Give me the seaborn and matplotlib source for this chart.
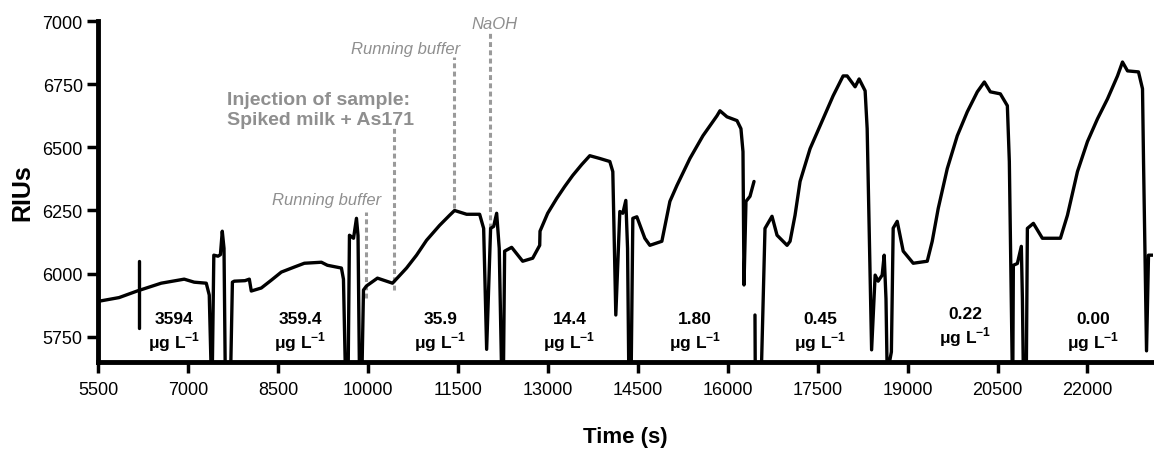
import numpy as np
import pandas as pd
import seaborn as sns
import matplotlib
matplotlib.use("Agg")
import matplotlib.pyplot as plt

# ---- data ----
seg_a_t = [5500, 5850, 6151, 6552, 6936, 7103, 7304, 7354, 7387, 7404,
           7430, 7500, 7540, 7571, 7600, 7621, 7710, 7740, 7771, 7950,
           8022, 8055, 8222, 8389, 8556, 8773, 8940, 9224, 9324, 9558,
           9592, 9625, 9670, 9692, 9760, 9809, 9835, 9859, 9900, 9926,
           9976, 10159, 10410, 10644, 10811, 10978, 11195, 11362, 11445, 11646,
           11863, 11930, 11980, 12046, 12097, 12147, 12190, 12230, 12260, 12280,
           12397, 12581, 12748, 12865, 12870, 12998, 13149, 13282, 13416, 13566,
           13700, 13867, 14034, 14084, 14134, 14201, 14251, 14301, 14330, 14351,
           14390, 14418, 14485, 14618, 14702, 14902, 15036, 15153, 15370, 15587,
           15821, 15871, 15988, 16155, 16221, 16255, 16272, 16305, 16372, 16439]
seg_a_y = [5890, 5905, 5931, 5962, 5978, 5966, 5962, 5915, 5600, 5600,
           6073, 6069, 6075, 6168, 6100, 5600, 5600, 5966, 5970, 5972,
           5978, 5931, 5943, 5974, 6006, 6026, 6041, 6045, 6033, 6022,
           5978, 5600, 5600, 6152, 6140, 6219, 6150, 5600, 5600, 5935,
           5951, 5982, 5962, 6022, 6073, 6132, 6191, 6231, 6250, 6235,
           6235, 6179, 5700, 6179, 6187, 6239, 6100, 5600, 5600, 6089,
           6104, 6049, 6061, 6112, 6168, 6239, 6298, 6345, 6389, 6432,
           6467, 6456, 6444, 6404, 5836, 6246, 6239, 6290, 6100, 5600,
           5600, 6219, 6225, 6140, 6112, 6128, 6286, 6349, 6456, 6546,
           6625, 6645, 6621, 6606, 6574, 6483, 5955, 6286, 6306, 6365]

seg_b_t = [16455, 16460, 16560, 16622, 16739, 16823, 16990, 17040, 17123, 17207,
           17374, 17591, 17758, 17925, 17992, 18125, 18192, 18292, 18326, 18400,
           18459, 18509, 18576, 18610, 18640, 18660, 18730, 18760, 18827, 18927,
           19094, 19328, 19411, 19511, 19662, 19829, 19996, 20163, 20280, 20380,
           20547, 20664, 20697, 20747, 20755, 20764, 20831, 20897, 20915, 20931,
           20980, 20998, 21098, 21248, 21549, 21666, 21833, 22000, 22167, 22334,
           22501, 22584, 22668, 22851, 22918, 22935, 22985, 23018, 23102]
seg_b_y = [5836, 5600, 5600, 6179, 6227, 6152, 6112, 6128, 6231, 6365,
           6495, 6613, 6704, 6783, 6783, 6740, 6771, 6724, 6574, 5698,
           5994, 5970, 5994, 6073, 5900, 5600, 5690, 6180, 6207, 6089,
           6041, 6049, 6128, 6258, 6416, 6546, 6641, 6720, 6759, 6720,
           6712, 6665, 6444, 5600, 5600, 6033, 6040, 6108, 5900, 5600,
           5600, 6179, 6199, 6140, 6140, 6231, 6404, 6523, 6613, 6692,
           6783, 6838, 6803, 6799, 6732, 6444, 5694, 6073, 6073]

marker_t = [6185, 6185]
marker_y = [6049, 5785]

conc_labels = ["3594", "359.4", "35.9", "14.4", "1.80", "0.45", "0.22", "0.00"]
conc_t = [6769, 8873, 11211, 13360, 15453, 17540, 19960, 22100]
conc_y = [5768, 5768, 5768, 5768, 5768, 5768, 5790, 5768]

event_t = [9976, 10430, 11430, 12030]
event_top = [6243, 6586, 6858, 6957]
event_bottom = [5903, 5935, 6258, 6180]

xticks = [5500, 7000, 8500, 10000, 11500, 13000, 14500, 16000, 17500, 19000, 20500, 22000]
yticks = [5750, 6000, 6250, 6500, 6750, 7000]

# ---- build frame ----
df = pd.concat([
    pd.DataFrame({"t": seg_a_t, "y": seg_a_y, "seg": 0}),
    pd.DataFrame({"t": seg_b_t, "y": seg_b_y, "seg": 1}),
    pd.DataFrame({"t": marker_t, "y": marker_y, "seg": 2}),
], ignore_index=True)

sns.set_style("ticks")
plt.rcParams["font.family"] = ["Liberation Sans", "DejaVu Sans"]
plt.rcParams["mathtext.fontset"] = "custom"
plt.rcParams["mathtext.rm"] = "Liberation Sans:bold"
plt.rcParams["mathtext.bf"] = "Liberation Sans:bold"
for k in ["text.color", "axes.labelcolor", "xtick.color", "ytick.color", "axes.edgecolor"]:
    plt.rcParams[k] = "black"

fig = plt.figure(figsize=(11.54, 4.52), dpi=100)
ax = fig.add_axes([0.085, 0.197, 0.9145, 0.754])

sns.lineplot(data=df, x="t", y="y", units="seg", estimator=None, sort=False,
             color="black", linewidth=2.4, ax=ax, legend=False)
for ln in ax.lines:
    ln.set_solid_joinstyle("round")

grey = "#8f8f8f"
ax.vlines(event_t, event_bottom, event_top, colors="#9a9a9a", linestyles=(0, (1.6, 1.1)),
          linewidth=2.2, zorder=1)

ax.text(9308, 6294, "Running buffer", color=grey, fontsize=12, style="italic",
        ha="center", va="center")
ax.text(10626, 6893, "Running buffer", color=grey, fontsize=12, style="italic",
        ha="center", va="center")
ax.text(12113, 6992, "NaOH", color=grey, fontsize=12, style="italic",
        ha="center", va="center")
ax.text(7654, 6649, "Injection of sample:\nSpiked milk + As171", color=grey, fontsize=14,
        fontweight="bold", ha="left", va="center", linespacing=1.2)

for lab, t, y in zip(conc_labels, conc_t, conc_y):
    ax.text(t, y, lab + "\nμg L$^{-1}$", fontsize=12.5, fontweight="bold", ha="center",
            va="center", linespacing=1.2, multialignment="center")

ax.set_xlim(5500, 23100)
ax.set_ylim(5650, 7000)
ax.set_xticks(xticks)
ax.set_yticks(yticks)
ax.set_xlabel("Time (s)", fontsize=16, fontweight="bold", labelpad=20)
ax.set_ylabel("RIUs", fontsize=18, fontweight="bold", labelpad=6)

sns.despine(ax=ax)
for s in ["left", "bottom"]:
    ax.spines[s].set_linewidth(3.5)
ax.tick_params(direction="out", length=8, width=2.5, labelsize=13, pad=3)
ax.tick_params(axis="x", pad=6)

fig.savefig("out.png", dpi=100)
